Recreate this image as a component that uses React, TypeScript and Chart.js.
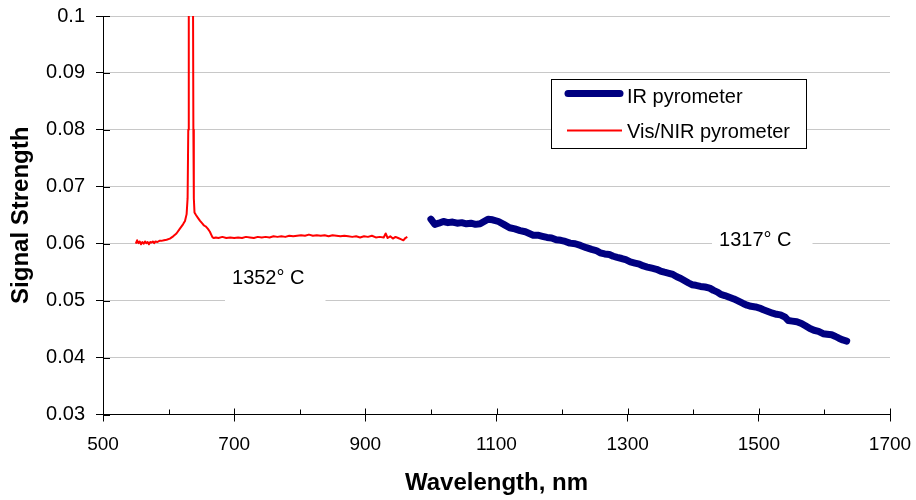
import React, { useEffect, useRef } from "react";
import { Chart, registerables } from "chart.js";

Chart.register(...registerables);

const FONT = '"Liberation Sans", Arial, Helvetica, sans-serif';

// IR pyrometer (navy, thick)
const irWavelength = [
  1000, 1006, 1012, 1019, 1026, 1033, 1040, 1047, 1054, 1061, 1068, 1075, 1081, 1087, 1094, 1103,
  1111, 1120, 1128, 1136, 1144, 1150, 1156, 1163, 1170, 1177, 1184, 1191, 1198, 1205, 1212, 1220,
  1228, 1237, 1245, 1252, 1258, 1265, 1272, 1278, 1284, 1291, 1297, 1304, 1311, 1318, 1324, 1330,
  1337, 1344, 1350, 1356, 1363, 1369, 1375, 1381, 1387, 1393, 1398, 1404, 1411, 1418, 1425, 1431,
  1437, 1442, 1448, 1455, 1462, 1469, 1476, 1482, 1488, 1495, 1501, 1507, 1514, 1521, 1527, 1533,
  1540, 1545, 1551, 1558, 1565, 1571, 1578, 1584, 1591, 1598, 1604, 1611, 1617, 1622, 1628, 1634,
];
const irSignal = [
  0.0643, 0.0634, 0.0636, 0.0639, 0.0637, 0.0638, 0.0636, 0.0637, 0.0635, 0.0636, 0.0634, 0.0635, 0.0639, 0.0643, 0.0642, 0.0639,
  0.0634, 0.0628, 0.0626, 0.0623, 0.0621, 0.0618, 0.0615, 0.0615, 0.0613, 0.0611, 0.0610, 0.0607, 0.0606, 0.0604, 0.0601, 0.0600,
  0.0597, 0.0593, 0.0590, 0.0588, 0.0584, 0.0582, 0.0581, 0.0578, 0.0576, 0.0574, 0.0572, 0.0568, 0.0566, 0.0564, 0.0561, 0.0559,
  0.0557, 0.0555, 0.0552, 0.0550, 0.0548, 0.0546, 0.0542, 0.0539, 0.0535, 0.0531, 0.0528, 0.0527, 0.0525, 0.0524, 0.0522, 0.0518,
  0.0515, 0.0511, 0.0509, 0.0506, 0.0503, 0.0499, 0.0495, 0.0492, 0.0490, 0.0489, 0.0487, 0.0484, 0.0481, 0.0478, 0.0476, 0.0475,
  0.0471, 0.0465, 0.0464, 0.0463, 0.0460, 0.0456, 0.0451, 0.0448, 0.0446, 0.0442, 0.0441, 0.0440, 0.0437, 0.0434, 0.0431, 0.0429,
];

// Vis/NIR pyrometer (red, thin)
const visWavelength = [
  550, 552, 554, 556, 558, 560, 562, 564, 566, 568, 570, 572, 574, 576, 578, 580, 583, 586,
  589, 593, 597, 602, 607, 612, 617, 622, 625, 627.5, 629, 630, 630.8, 632, 634, 636, 637.2,
  637.8, 638.5, 639.5, 642, 645, 648, 651, 654, 657, 660, 663, 665, 667, 669,
  672, 676, 682, 688, 694, 700, 706, 712, 718, 724, 730, 736, 742, 748, 754, 760, 766, 772,
  778, 784, 790, 796, 802, 808, 814, 820, 826, 832, 838, 844, 850, 856, 862, 868, 874, 880,
  886, 892, 898, 904, 910, 916, 922, 928, 931, 934, 938, 942, 946, 950, 954, 958, 961, 964,
];
const visSignal = [
  0.0600, 0.0606, 0.0601, 0.0604, 0.0599, 0.0603, 0.0600, 0.0604, 0.0601, 0.0603, 0.0599, 0.0603, 0.0602, 0.0604, 0.0601, 0.0604, 0.0603, 0.0605,
  0.0605, 0.0606, 0.0607, 0.0609, 0.0613, 0.0618, 0.0626, 0.0634, 0.0640, 0.0652, 0.0680, 0.0800, 0.1050, 0.1600, 0.2000, 0.1600, 0.1050,
  0.0800, 0.0680, 0.0655, 0.0650, 0.0645, 0.0640, 0.0636, 0.0632, 0.0630, 0.0626, 0.0621, 0.0616, 0.0611, 0.0610,
  0.0611, 0.0610, 0.0612, 0.0610, 0.0611, 0.0610, 0.0611, 0.0610, 0.0612, 0.0611, 0.0610, 0.0612, 0.0611, 0.0612, 0.0611, 0.0613, 0.0612, 0.0613,
  0.0612, 0.0614, 0.0613, 0.0614, 0.0615, 0.0614, 0.0616, 0.0614, 0.0615, 0.0614, 0.0615, 0.0613, 0.0615, 0.0614, 0.0613, 0.0614, 0.0613, 0.0612,
  0.0613, 0.0611, 0.0613, 0.0612, 0.0614, 0.0611, 0.0612, 0.0611, 0.0618, 0.0610, 0.0613, 0.0609, 0.0612, 0.0610, 0.0608, 0.0606, 0.0610, 0.0612,
];

const seriesLabels = ["IR pyrometer", "Vis/NIR pyrometer"];
const seriesColors = ["#000080", "#ff0000"];

const xTickValues = [500, 700, 900, 1100, 1300, 1500, 1700];
const xMinorTicks = [600, 800, 1000, 1200, 1400, 1600];
const yTickValues = [0.03, 0.04, 0.05, 0.06, 0.07, 0.08, 0.09, 0.1];

const xTitle = "Wavelength, nm";
const yTitle = "Signal Strength";

// text annotations: left/baseline anchored in data units
const annotationTexts = ["1352° C", "1317° C"];
const annotationX = [696.7, 1439.3];
const annotationY = [0.0529, 0.0596];

const overlayPlugin = {
  id: "overlay",
  afterDatasetsDraw(chart: any) {
    const { ctx, scales, chartArea } = chart;
    const xs = scales.x;
    const ys = scales.y;
    ctx.save();
    // inner half of crossing ticks
    ctx.strokeStyle = "#000";
    ctx.lineWidth = 1;
    ctx.beginPath();
    xTickValues.forEach((v) => {
      const px = Math.round(xs.getPixelForValue(v)) + 0.5;
      ctx.moveTo(px, chartArea.bottom);
      ctx.lineTo(px, chartArea.bottom - 6);
    });
    xMinorTicks.forEach((v) => {
      const px = Math.round(xs.getPixelForValue(v)) + 0.5;
      ctx.moveTo(px, chartArea.bottom);
      ctx.lineTo(px, chartArea.bottom - 5);
    });
    yTickValues.forEach((v) => {
      const py = Math.round(ys.getPixelForValue(v)) + 0.5;
      ctx.moveTo(chartArea.left, py);
      ctx.lineTo(chartArea.left + 7, py);
    });
    ctx.stroke();

    // annotations with white boxes
    ctx.font = `20px ${FONT}`;
    ctx.textAlign = "left";
    ctx.textBaseline = "alphabetic";
    annotationTexts.forEach((t, i) => {
      const px = xs.getPixelForValue(annotationX[i]);
      const py = ys.getPixelForValue(annotationY[i]);
      const w = ctx.measureText(t).width;
      ctx.fillStyle = "#ffffff";
      ctx.fillRect(px - 7, py - 23, w + 28, 42);
      ctx.fillStyle = "#000";
      ctx.fillText(t, px, py);
    });

    // legend box
    const lx = 551, ly = 79, lw = 256, lh = 70;
    ctx.fillStyle = "#ffffff";
    ctx.fillRect(lx, ly, lw, lh);
    ctx.strokeStyle = "#000";
    ctx.lineWidth = 1;
    ctx.strokeRect(lx + 0.5, ly + 0.5, lw - 1, lh - 1);
    const ds = chart.data.datasets;
    ctx.lineCap = "round";
    ctx.strokeStyle = ds[0].borderColor;
    ctx.lineWidth = 7;
    ctx.beginPath();
    ctx.moveTo(568, 93.5);
    ctx.lineTo(620, 93.5);
    ctx.stroke();
    ctx.lineCap = "butt";
    ctx.strokeStyle = ds[1].borderColor;
    ctx.lineWidth = 2;
    ctx.beginPath();
    ctx.moveTo(567, 130.5);
    ctx.lineTo(622, 130.5);
    ctx.stroke();
    ctx.fillStyle = "#000";
    ctx.font = `20px ${FONT}`;
    ctx.fillText(ds[0].label, 627, 103);
    ctx.fillText(ds[1].label, 627, 138);
    ctx.restore();
  },
};

export default function App() {
  const canvasRef = useRef<HTMLCanvasElement | null>(null);

  useEffect(() => {
    const canvas = canvasRef.current;
    if (!canvas) return;
    const chart = new Chart(canvas, {
      type: "line",
      data: {
        datasets: [
          {
            label: seriesLabels[0],
            data: irWavelength.map((x, i) => ({ x, y: irSignal[i] })),
            borderColor: seriesColors[0],
            backgroundColor: seriesColors[0],
            borderWidth: 7,
            borderCapStyle: "round",
            borderJoinStyle: "round",
            pointRadius: 0,
            tension: 0,
            fill: false,
          },
          {
            label: seriesLabels[1],
            data: visWavelength.map((x, i) => ({ x, y: visSignal[i] })),
            borderColor: seriesColors[1],
            backgroundColor: seriesColors[1],
            borderWidth: 2,
            borderJoinStyle: "round",
            pointRadius: 0,
            tension: 0,
            fill: false,
          },
        ],
      },
      options: {
        animation: false,
        responsive: false,
        maintainAspectRatio: false,
        layout: { padding: { left: 0, top: 16, right: 26, bottom: 0 } },
        plugins: {
          legend: { display: false },
          tooltip: { enabled: false },
        },
        scales: {
          x: {
            type: "linear",
            min: 500,
            max: 1700,
            afterBuildTicks: (s: any) => {
              s.ticks = xTickValues.map((v) => ({ value: v }));
            },
            afterFit: (s: any) => {
              s.height = 85.5;
              s.paddingLeft = 0;
              s.paddingRight = 0;
              s.paddingTop = 0;
              s.paddingBottom = 0;
            },
            grid: {
              drawOnChartArea: false,
              drawTicks: true,
              tickLength: 7,
              color: "#000",
              tickColor: "#000",
              lineWidth: 1,
            },
            border: { display: true, color: "#000", width: 1 },
            ticks: {
              color: "#000",
              font: { size: 19, family: FONT },
              padding: 12,
              maxRotation: 0,
              autoSkip: false,
              callback: (v: any) => String(v),
            },
            title: {
              display: true,
              text: xTitle,
              color: "#000",
              font: { size: 24, weight: "bold", family: FONT },
              padding: { top: 0, bottom: 2 },
            },
          },
          y: {
            type: "linear",
            min: 0.03,
            max: 0.1,
            afterBuildTicks: (s: any) => {
              s.ticks = yTickValues.map((v) => ({ value: v }));
            },
            afterFit: (s: any) => {
              s.width = 103;
              s.paddingLeft = 0;
              s.paddingRight = 0;
              s.paddingTop = 0;
              s.paddingBottom = 0;
            },
            grid: {
              color: (c: any) =>
                c.tick && Math.abs(c.tick.value - 0.03) < 1e-6 ? "rgba(0,0,0,0)" : "#c8c8c8",
              tickColor: "#000",
              tickLength: 7,
              lineWidth: 1,
            },
            border: { display: true, color: "#000", width: 1 },
            ticks: {
              color: "#000",
              font: { size: 20, family: FONT },
              padding: 11,
              callback: (v: any) => String(Number(Number(v).toFixed(2))),
            },
            title: {
              display: true,
              text: yTitle,
              color: "#000",
              font: { size: 24, weight: "bold", family: FONT },
              padding: { top: 7, bottom: 0 },
            },
          },
        },
      },
      plugins: [overlayPlugin],
    } as any);
    return () => chart.destroy();
  }, []);

  return (
    <div style={{ position: "absolute", left: 0, top: 0, width: 916, height: 500, background: "#fff" }}>
      <canvas ref={canvasRef} width={916} height={500} style={{ display: "block", width: 916, height: 500 }} />
    </div>
  );
}
